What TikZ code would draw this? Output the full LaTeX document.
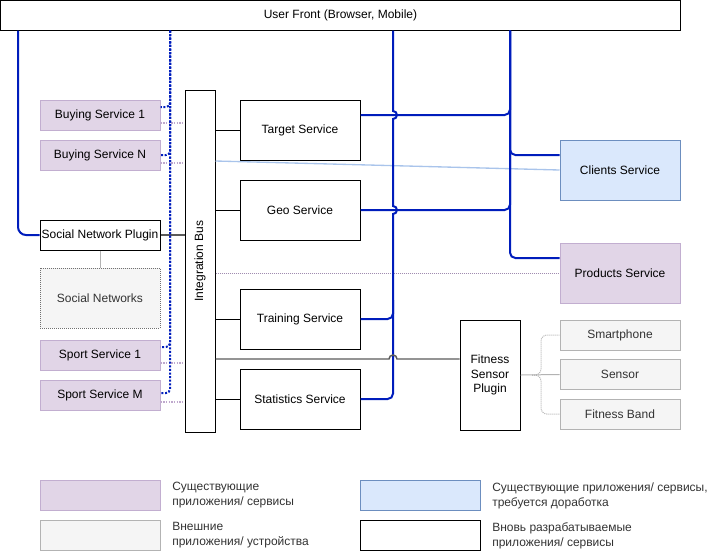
\documentclass[tikz,border=0pt]{standalone}
\usepackage{fontspec}
\setmainfont{Liberation Sans}
\usepackage{graphicx}
\usetikzlibrary{calc}
\definecolor{purf}{HTML}{E1D5E7}
\definecolor{purd}{HTML}{C2AED0}
\definecolor{extf}{HTML}{F5F5F5}
\definecolor{extd}{HTML}{B3B3B3}
\definecolor{bluf}{HTML}{DAE8FC}
\definecolor{blud}{HTML}{6C8EBF}
\definecolor{linb}{HTML}{001DBC}
\definecolor{pdot}{HTML}{BFA8CD}
\definecolor{pdot2}{HTML}{A08CB0}
\definecolor{gline}{HTML}{5A5A5A}
\definecolor{lbl}{HTML}{A9C4EB}
\definecolor{txtg}{HTML}{333333}
\definecolor{sndot}{HTML}{707070}
\tikzset{
 box/.style={draw, line width=0.75pt, inner sep=1pt, align=center, minimum width=90pt, minimum height=22.5pt, text=black, font=\fontsize{9}{11}\selectfont},
 purp/.style={box, fill=purf, draw=purd},
 ext/.style={box, fill=extf, draw=extd, text=txtg},
 nw/.style={box, fill=white, draw=black},
 blu/.style={box, fill=bluf, draw=blud},
 tall/.style={minimum height=45pt},
 bl/.style={draw=linb, line width=1.5pt, rounded corners=4pt},
 bld/.style={draw=linb, line width=1.5pt, dash pattern=on 1.5pt off 1.2pt, rounded corners=3pt},
 pd/.style={draw=pdot, line width=1.2pt, dash pattern=on 1pt off 1pt},
 gl/.style={draw=gline, line width=1.1pt},
 kl/.style={draw=black, line width=0.75pt},
 gdot/.style={draw=extd, line width=0.75pt, dash pattern=on 0.75pt off 0.75pt, rounded corners=4.5pt},
 legtext/.style={anchor=west, align=left, text=txtg, font=\fontsize{9}{11.25}\selectfont, inner sep=0pt},
}
\begin{document}
\begin{tikzpicture}[x=0.75pt,y=-0.75pt]
\useasboundingbox (0,0) rectangle (721,551);

% coordinates for vertical trunks
\coordinate (v0) at (18,0);
\coordinate (v3) at (170,0);
\coordinate (v1) at (393,0);
\coordinate (v2) at (510,0);
\coordinate (j1) at (393,300);
\coordinate (lbs) at (215,161);
\coordinate (br) at (532,375);

% nodes
\node[nw, minimum width=510pt] (uf) at (340.5,15) {User Front (Browser, Mobile)};
\node[purp] (b1) at (100,115) {Buying Service 1};
\node[purp] (b2) at (100,155) {Buying Service N};
\node[nw] (snp) at (100,235) {Social Network Plugin};
\node[ext, tall, draw=sndot, dash pattern=on 0.75pt off 0.75pt] (sn) at (100,298) {Social Networks};
\node[purp] (s1) at (100,355) {Sport Service 1};
\node[purp] (sm) at (100,395) {Sport Service M};
\node[nw, minimum width=22.5pt, minimum height=256.5pt] (ib) at (200,261) {\rotatebox{90}{Integration Bus}};
\node[nw, tall] (tg) at (300,130) {Target Service};
\node[nw, tall] (geo) at (300,210) {Geo Service};
\node[nw, tall] (tr) at (300,319) {Training Service};
\node[nw, tall] (st) at (300,399) {Statistics Service};
\node[blu, tall] (cl) at (620,170) {Clients Service};
\node[purp, tall] (pr) at (620,273) {Products Service};
\node[nw, minimum width=45pt, minimum height=82.5pt, font=\fontsize{9}{10.75}\selectfont] (fsp) at (490,375) {Fitness\\Sensor\\Plugin};
\node[ext] (smp) at (620,335) {Smartphone};
\node[ext] (sen) at (620,374.5) {Sensor};
\node[ext] (fb) at (620,414) {Fitness Band};

% legend
\node[purp] (lp) at (100,495) {};
\node[ext] (lg) at (100,535) {};
\node[blu] (lb) at (420,495) {};
\node[nw] (lw) at (420,535) {};
\node[legtext] (tp) at (172,495.5) {Существующие\\приложения/ сервисы};
\node[legtext] (tg2) at (172,535.5) {Внешние\\приложения/ устройства};
\node[legtext] (tb) at (492,495.5) {Существующие приложения/ сервисы,\\требуется доработка};
\node[legtext] (tw) at (492,535.5) {Вновь разрабатываемые\\приложения/ сервисы};

% thin connectors to the bus
\draw[pd] ([yshift=-6pt]b1.east) -- ([yshift=-6pt]b1.east -| ib.west);
\draw[pd] ([yshift=-6pt]b2.east) -- ([yshift=-6pt]b2.east -| ib.west);
\draw[pd] ([yshift=-6pt]s1.east) -- ([yshift=-6pt]s1.east -| ib.west);
\draw[pd] ([yshift=-5.25pt]sm.east) -- ([yshift=-5.25pt]sm.east -| ib.west);
\draw[gl] (snp.east) -- (snp.east -| ib.west);
\draw[draw=extd, line width=0.75pt] (snp.south) -- (sn.north);
\draw[kl] (tg.west -| ib.east) -- (tg.west);
\draw[kl] (geo.west -| ib.east) -- (geo.west);
\draw[kl] (tr.west -| ib.east) -- (tr.west);
\draw[kl] (st.west -| ib.east) -- (st.west);
\draw[draw=lbl, line width=1pt] (ib.east |- lbs) -- (cl.west);
\draw[draw=pdot2, line width=0.75pt, dash pattern=on 0.75pt off 0.75pt] (pr.west -| ib.east) -- (pr.west);

% blue dotted trunk
\draw[bld] (uf.south -| v3) |- ([yshift=6pt]b1.east);
\draw[bld] (uf.south -| v3) |- (b2.east);
\draw[bld] (uf.south -| v3) |- ([yshift=6pt]s1.east);
\draw[bld] (uf.south -| v3) |- ([yshift=1.5pt]sm.east);

% blue solid connectors
\draw[bl, rounded corners=6pt] (uf.south -| v0) |- (snp.west);
\draw[bl] ([yshift=11.25pt]tg.east) -| (uf.south -| v2);
\draw[bl] (geo.east) -| (uf.south -| v2);
\draw[bl] (uf.south -| v2) |- ([yshift=11.25pt]cl.west);
\draw[bl] (uf.south -| v2) |- ([yshift=11.25pt]pr.west);
\draw[bl] (tr.east) -| (j1);
\draw[bl] (st.east) -| (j1);
\draw[bl, sharp corners] (j1) -- (393,214) arc(-90:90:3pt) -- (393,119) arc(-90:90:3pt) -- (uf.south -| v1);

% bus to fitness sensor plugin
\coordinate (fin) at ([yshift=12pt]fsp.west);
\draw[gl] (fin -| ib.east) -- (389,359) arc(180:0:3pt) -- (fin);

% devices
\draw[draw=extd, line width=0.75pt] (fsp.east) -- (sen.west);
\draw[gdot] (br) -| (541,335) -- (smp.west);
\draw[gdot] (br) -| (541,414) -- (fb.west);
\end{tikzpicture}
\end{document}
